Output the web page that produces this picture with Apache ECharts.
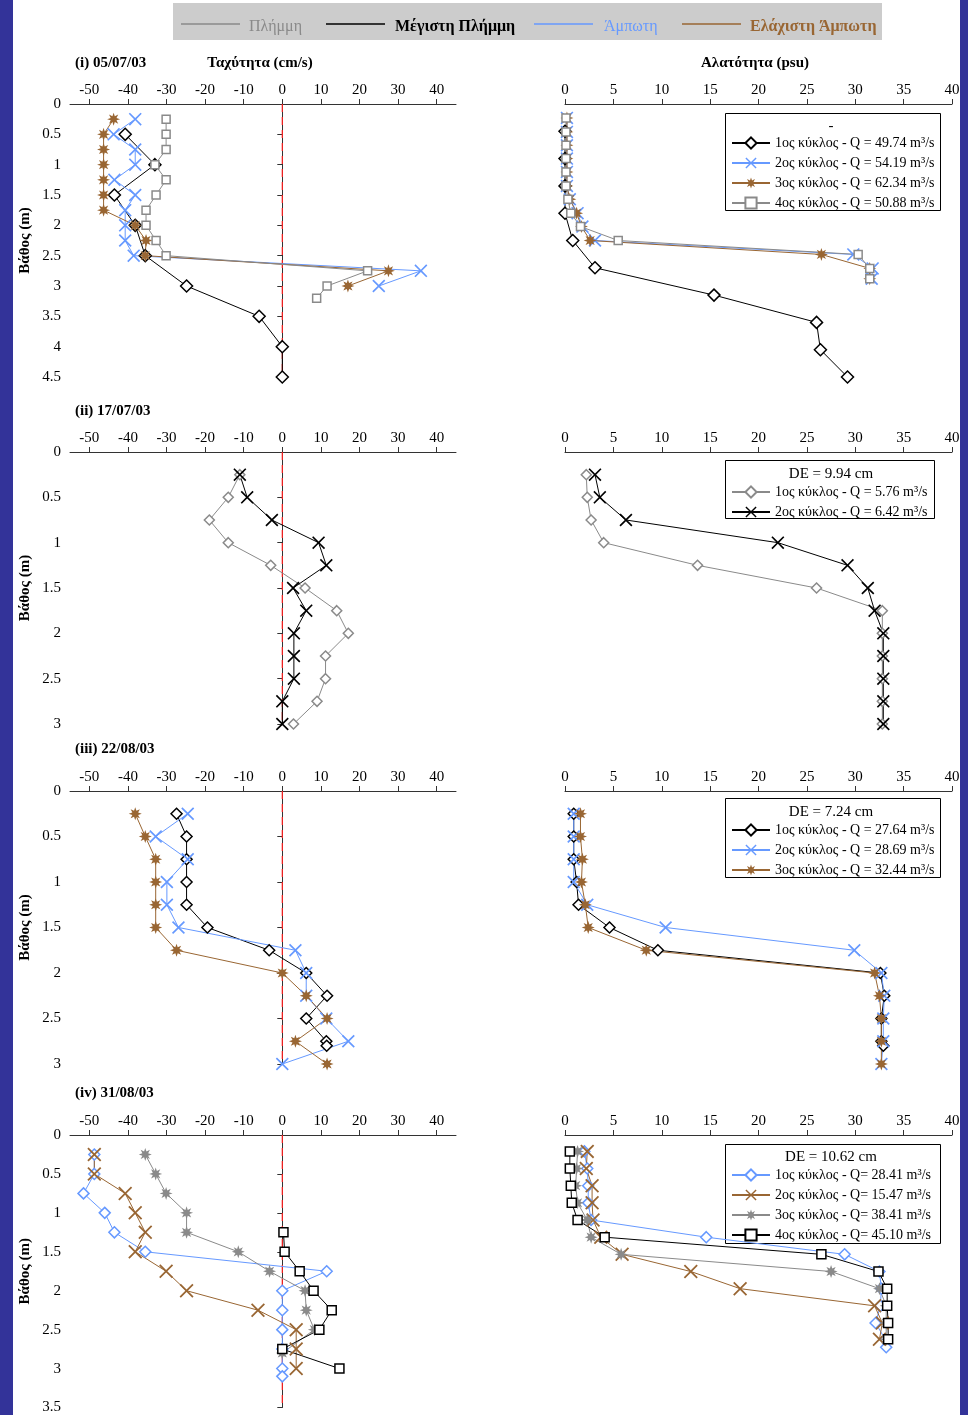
<!DOCTYPE html>
<html><head><meta charset="utf-8">
<script src="https://cdn.jsdelivr.net/npm/echarts@6.0.0/dist/echarts.min.js"></script>
<style>html,body{margin:0;padding:0;background:#fff}#c{width:968px;height:1415px}</style>
</head><body><div id="c"></div>
<script>
// ---------- DATA ----------
// Panel (i) 05/07/03 — velocity (cm/s) vs depth (m)
const i1_velDepth = [0.5,1,1.5,2,2.5,3,3.5,4,4.5];
const i1_vel      = [-40.7,-33.0,-43.5,-38.1,-35.5,-24.8,-6.0,0,0];
const i2_velDepth = [0.25,0.5,0.75,1,1.25,1.5,1.75,2,2.25,2.5,2.75,3];
const i2_vel      = [-38.1,-43.7,-38.1,-38.1,-43.5,-38.1,-40.7,-40.7,-40.7,-38.5,35.9,25.0];
const i3_velDepth = [0.25,0.5,0.75,1,1.25,1.5,1.75,2,2.25,2.5,2.75,3];
const i3_vel      = [-43.7,-46.3,-46.3,-46.3,-46.3,-46.3,-46.3,-38.1,-35.3,-35.5,27.5,17.0];
const i4_velDepth = [0.25,0.5,0.75,1,1.25,1.5,1.75,2,2.25,2.5,2.75,3,3.2];
const i4_vel      = [-30.1,-30.1,-30.1,-33.0,-30.1,-32.7,-35.3,-35.3,-32.7,-30.1,22.1,11.6,8.9];
// Panel (i) — salinity (psu) vs depth (m)
const i1_salDepth = [0.45,0.9,1.35,1.8,2.25,2.7,3.15,3.6,4.05,4.5];
const i1_sal      = [0,0,0,0,0.8,3.1,15.4,26.0,26.4,29.2];
const i_salDepth  = [0.23,0.46,0.68,0.9,1.12,1.35,1.57,1.8,2.02,2.25,2.48,2.71,2.88];
const i2_sal      = [0.2,0.2,0.2,0.2,0.2,0.2,0.5,1.3,1.8,3.1,29.8,31.8,31.7];
const i3_sal      = [0.2,0.2,0.2,0.2,0.2,0.2,0.5,1.2,1.7,2.6,26.5,31.5,31.5];
const i4_sal      = [0.1,0.1,0.1,0.1,0.1,0.1,0.3,0.6,1.6,5.5,30.3,31.5,31.5];

// Panel (ii) 17/07/03
const ii_depth = [0.25,0.5,0.75,1,1.25,1.5,1.75,2,2.25,2.5,2.75,3];
const ii1_vel  = [-11.0,-14.0,-18.9,-14.0,-3.0,5.9,14.1,17.1,11.2,11.2,9.0,2.9];
const ii2_vel  = [-11.0,-9.1,-2.7,9.4,11.4,2.8,6.2,3.0,3.0,3.0,0,0];
const ii1_sal  = [2.2,2.3,2.7,4.0,13.7,26.0,32.8,32.8,32.8,32.8,32.8,32.8];
const ii2_sal  = [3.1,3.6,6.3,22.0,29.2,31.3,32.0,32.9,32.9,32.9,32.9,32.9];

// Panel (iii) 22/08/03
const iii1_depth = [0.25,0.5,0.75,1,1.25,1.5,1.75,2,2.25,2.5,2.75,2.8];
const iii_depth  = [0.25,0.5,0.75,1,1.25,1.5,1.75,2,2.25,2.5,2.75,3];
const iii1_vel = [-27.4,-24.8,-24.8,-24.8,-24.8,-19.4,-3.4,6.2,11.6,6.2,11.4,11.5];
const iii2_vel = [-24.5,-32.8,-24.5,-29.9,-29.9,-26.9,3.4,6.2,6.2,11.4,17.1,0];
const iii3_vel = [-38.1,-35.5,-32.8,-32.8,-32.8,-32.8,-27.4,0,6.2,11.6,3.4,11.6];
const iii1_sal = [0.9,0.9,0.9,1.2,1.4,4.6,9.6,32.6,33.0,32.7,32.7,32.9];
const iii2_sal = [0.9,0.9,0.9,0.9,2.3,10.4,29.9,32.7,33.0,32.9,32.9,32.7];
const iii3_sal = [1.6,1.6,1.8,1.7,2.1,2.4,8.4,32.0,32.5,32.7,32.7,32.7];

// Panel (iv) 31/08/03
const iv1_velDepth = [0.25,0.5,0.75,1,1.25,1.5,1.75,2,2.25,2.5,2.75,3,3.1];
const iv1_vel      = [-48.7,-48.7,-51.5,-46.0,-43.5,-35.5,11.5,0,0,0,0,0,0];
const iv2_velDepth = [0.25,0.5,0.75,1,1.25,1.5,1.75,2,2.25,2.5,2.75,3];
const iv2_vel      = [-48.7,-48.7,-40.7,-38.1,-35.5,-38.1,-30.1,-24.8,-6.3,3.6,3.6,3.6];
const iv3_velDepth = [0.25,0.5,0.75,1,1.25,1.5,1.75,2,2.25,2.5,2.8];
const iv3_vel      = [-35.5,-32.8,-30.1,-24.8,-24.8,-11.4,-3.3,5.9,6.2,8.3,0];
const iv4_velDepth = [1.25,1.5,1.75,2,2.25,2.5,2.75,3];
const iv4_vel      = [0.3,0.6,4.5,8.1,12.8,9.6,0,14.8];
const iv_salDepth  = [0.21,0.43,0.65,0.87,1.09,1.31,1.53,1.75,1.97,2.19,2.41,2.62,2.72];
const iv1_sal      = [2.0,2.3,2.4,2.4,2.7,14.6,28.9,32.5,32.7,32.6,32.1,33.1,33.2];
const iv2_sal      = [2.3,2.2,2.8,2.8,2.9,3.7,5.9,13.0,18.1,32.0,32.8,32.5];
const iv3_sal      = [1.3,1.2,1.1,1.3,2.3,2.7,5.8,27.5,32.5,33.2,33.2,33.2];
const iv4_sal      = [0.5,0.5,0.6,0.7,1.3,4.1,26.5,32.4,33.3,33.3,33.4,33.4];

// Names / labels
const N_I   = ['1ος κύκλος - Q = 49.74 m³/s','2ος κύκλος - Q = 54.19 m³/s','3ος κύκλος - Q = 62.34 m³/s','4ος κύκλος - Q = 50.88 m³/s'];
const N_II  = ['1ος κύκλος - Q = 5.76 m³/s','2ος κύκλος - Q = 6.42 m³/s'];
const N_III = ['1ος κύκλος - Q = 27.64 m³/s','2ος κύκλος - Q = 28.69 m³/s','3ος κύκλος - Q = 32.44 m³/s'];
const N_IV  = ['1ος κύκλος - Q= 28.41 m³/s','2ος κύκλος - Q= 15.47 m³/s','3ος κύκλος - Q= 38.41 m³/s','4ος κύκλος - Q= 45.10 m³/s'];
const HEADERS = ['-','DE = 9.94 cm','DE = 7.24 cm','DE = 10.62 cm'];
const PANEL_TITLES = ['(i) 05/07/03','(ii) 17/07/03','(iii) 22/08/03','(iv) 31/08/03'];
const TOP_LEGEND = ['Πλήμμη','Μέγιστη Πλήμμη','Άμπωτη','Ελάχιστη Άμπωτη'];
const VEL_TICKS = [-50,-40,-30,-20,-10,0,10,20,30,40];
const DEPTH_MAX = [4.5,3,3,3.5];

// ---------- STYLE ----------
const FONT = '"Liberation Serif","Times New Roman",serif';
const C_BLACK = '#000000', C_BLUE = '#6699ff', C_BROWN = '#996633', C_GRAY = '#8a8a8a';
const SYM_X = 'path://M0,0.9L0.9,0L5,4.1L9.1,0L10,0.9L5.9,5L10,9.1L9.1,10L5,5.9L0.9,10L0,9.1L4.1,5Z';
function starPath(n, ro, ri){
  let d = 'path://';
  for (let k = 0; k < 2*n; k++){
    const r = k % 2 ? ri : ro;
    const a = Math.PI * k / n - Math.PI / 2;
    d += (k ? 'L' : 'M') + (5 + r*Math.cos(a)).toFixed(2) + ',' + (5 + r*Math.sin(a)).toFixed(2);
  }
  return d + 'Z';
}
const SYM_STAR = starPath(8, 5, 2.4);

function mk(kind, color, size){
  if (kind === 'diamond') return {symbol:'diamond', symbolSize:size||12, itemStyle:{color:'#fff', borderColor:color, borderWidth:1.5}};
  if (kind === 'square')  return {symbol:'rect', symbolSize:size||8, itemStyle:{color:'#fff', borderColor:color, borderWidth:1.5}};
  if (kind === 'x')       return {symbol:SYM_X, symbolSize:size||13, itemStyle:{color:color}};
  return {symbol:SYM_STAR, symbolSize:size||13, itemStyle:{color:color}};
}
function S(name, grid, xs, ys, kind, color, size){
  return Object.assign({
    name, type:'line', xAxisIndex:grid, yAxisIndex:grid,
    data: xs.map((v,i)=>[v, ys[i]]),
    showSymbol:true, animation:false, z:3,
    lineStyle:{width:1, color:color}
  }, mk(kind, color, size));
}

// ---------- LAYOUT ----------
const GRID_TOPS = [104, 452, 791, 1135];
const GRID_H = [273, 272, 273, 273];
const grids = [], xAxes = [], yAxes = [];
for (let p = 0; p < 4; p++){
  grids.push({left:70, top:GRID_TOPS[p], width:386, height:GRID_H[p]});
  grids.push({left:565, top:GRID_TOPS[p], width:387, height:GRID_H[p]});
  const gl = 2*p, gr = 2*p+1;
  const axLine = {show:true, lineStyle:{color:'#333', width:1}};
  xAxes.push({gridIndex:gl, type:'value', position:'top', min:-55, max:45,
    axisLine:axLine, axisTick:{show:true, length:5, customValues:VEL_TICKS, lineStyle:{color:'#333'}},
    axisLabel:{customValues:VEL_TICKS, margin:6, fontSize:15, color:'#000', fontFamily:FONT},
    splitLine:{show:false}});
  xAxes.push({gridIndex:gr, type:'value', position:'top', min:0, max:40, interval:5,
    axisLine:axLine, axisTick:{show:true, length:5, lineStyle:{color:'#333'}},
    axisLabel:{margin:6, fontSize:15, color:'#000', fontFamily:FONT},
    splitLine:{show:false}});
  yAxes.push({gridIndex:gl, type:'value', inverse:true, min:0, max:DEPTH_MAX[p], interval:0.5,
    axisLine:axLine, axisTick:{show:true, length:5, lineStyle:{color:'#333'}},
    axisLabel:{margin:9, fontSize:15, color:'#000', fontFamily:FONT},
    splitLine:{show:false},
    name:'Βάθος (m)', nameLocation:'middle', nameRotate:90, nameGap:37,
    nameTextStyle:{fontSize:15, fontWeight:'bold', color:'#000', fontFamily:FONT}});
  yAxes.push({gridIndex:gr, type:'value', inverse:true, min:0, max:DEPTH_MAX[p], show:false});
}

// zero reference line (velocity = 0) spanning the depth axis
function zeroLine(grid, dmax){
  return {name:'zero', type:'line', xAxisIndex:grid, yAxisIndex:grid, data:[[0,0],[0,dmax]],
    z:1, animation:false, symbol:'none', silent:true,
    lineStyle:{color:'#ff2020', type:[8,5], width:1.2}};
}

const series = [
  zeroLine(0,DEPTH_MAX[0]), zeroLine(2,DEPTH_MAX[1]), zeroLine(4,DEPTH_MAX[2]), zeroLine(6,DEPTH_MAX[3]),
  // (i)
  S(N_I[0],0,i1_vel,i1_velDepth,'diamond',C_BLACK,12),
  S(N_I[1],0,i2_vel,i2_velDepth,'x',C_BLUE,13),
  S(N_I[2],0,i3_vel,i3_velDepth,'star',C_BROWN,13),
  S(N_I[3],0,i4_vel,i4_velDepth,'square',C_GRAY,8),
  S(N_I[0],1,i1_sal,i1_salDepth,'diamond',C_BLACK,12),
  S(N_I[1],1,i2_sal,i_salDepth,'x',C_BLUE,13),
  S(N_I[2],1,i3_sal,i_salDepth,'star',C_BROWN,13),
  S(N_I[3],1,i4_sal,i_salDepth,'square',C_GRAY,8),
  // (ii)
  S(N_II[0],2,ii1_vel,ii_depth,'diamond',C_GRAY,10),
  S(N_II[1],2,ii2_vel,ii_depth,'x',C_BLACK,13),
  S(N_II[0],3,ii1_sal,ii_depth,'diamond',C_GRAY,10),
  S(N_II[1],3,ii2_sal,ii_depth,'x',C_BLACK,13),
  // (iii)
  S(N_III[0],4,iii1_vel,iii1_depth,'diamond',C_BLACK,11),
  S(N_III[1],4,iii2_vel,iii_depth,'x',C_BLUE,13),
  S(N_III[2],4,iii3_vel,iii_depth,'star',C_BROWN,13),
  S(N_III[0],5,iii1_sal,iii1_depth,'diamond',C_BLACK,11),
  S(N_III[1],5,iii2_sal,iii_depth,'x',C_BLUE,13),
  S(N_III[2],5,iii3_sal,iii_depth,'star',C_BROWN,13),
  // (iv)
  S(N_IV[0],6,iv1_vel,iv1_velDepth,'diamond',C_BLUE,11),
  S(N_IV[1],6,iv2_vel,iv2_velDepth,'x',C_BROWN,14),
  S(N_IV[2],6,iv3_vel,iv3_velDepth,'star',C_GRAY,13),
  S(N_IV[3],6,iv4_vel,iv4_velDepth,'square',C_BLACK,9),
  S(N_IV[0],7,iv1_sal,iv_salDepth,'diamond',C_BLUE,11),
  S(N_IV[1],7,iv2_sal,iv_salDepth.slice(0,iv2_sal.length),'x',C_BROWN,14),
  S(N_IV[2],7,iv3_sal,iv_salDepth.slice(0,iv3_sal.length),'star',C_GRAY,13),
  S(N_IV[3],7,iv4_sal,iv_salDepth.slice(0,iv4_sal.length),'square',C_BLACK,9)
];

// legends for the right panels
const LEG_BOX = [[725,113,215,97],[725,460,209,58],[725,798,215,79],[725,1144,215,99]];
const LEG_HEAD_Y = [126,474,812,1157];
const LEG_ROW1 = [143,492,830,1175];
const LEG_NAMES = [N_I, N_II, N_III, N_IV];
const legends = LEG_NAMES.map((names,p)=>({
  orient:'vertical', left:731, top:LEG_ROW1[p]-7, padding:0,
  itemWidth:38, itemHeight:14, itemGap:6, selectedMode:false,
  textStyle:{fontSize:14, fontFamily:FONT, color:'#000', lineHeight:14},
  data:names
}));

const graphics = [
  {type:'rect', shape:{x:0,y:0,width:13,height:1415}, style:{fill:'#333399'}},
  {type:'rect', shape:{x:960,y:0,width:8,height:1415}, style:{fill:'#333399'}},
  {type:'rect', shape:{x:173,y:3,width:709,height:37}, style:{fill:'#cccccc'}},
];
const TL_COL = [C_GRAY, C_BLACK, C_BLUE, C_BROWN];
const TL_LINE_X = [181,326,534,682];
const TL_TEXT_X = [249,395,604,750];
const TL_BOLD = [false,true,false,true];
for (let k=0;k<4;k++){
  graphics.push({type:'line', shape:{x1:TL_LINE_X[k], y1:24, x2:TL_LINE_X[k]+59, y2:24}, style:{stroke:TL_COL[k], lineWidth:1.3}});
  graphics.push({type:'text', x:TL_TEXT_X[k], y:27, style:{text:TOP_LEGEND[k], fill:TL_COL[k],
    font:(TL_BOLD[k]?'bold ':'')+'16px '+FONT, align:'left', verticalAlign:'middle'}});
}
const TITLE_Y = [63,411,749,1093];
for (let p=0;p<4;p++){
  graphics.push({type:'text', x:75, y:TITLE_Y[p], style:{text:PANEL_TITLES[p], fill:'#000', font:'bold 15px '+FONT, align:'left', verticalAlign:'middle'}});
  const b = LEG_BOX[p];
  graphics.push({type:'rect', shape:{x:b[0]+0.5,y:b[1]+0.5,width:b[2],height:b[3]}, style:{fill:'none', stroke:'#000', lineWidth:1}});
  graphics.push({type:'text', x:831, y:LEG_HEAD_Y[p], style:{text:HEADERS[p], fill:'#000', font:'15px '+FONT, align:'center', verticalAlign:'middle'}});
}
graphics.push({type:'text', x:260, y:63, style:{text:'Ταχύτητα (cm/s)', fill:'#000', font:'bold 15px '+FONT, align:'center', verticalAlign:'middle'}});
graphics.push({type:'text', x:755, y:63, style:{text:'Αλατότητα (psu)', fill:'#000', font:'bold 15px '+FONT, align:'center', verticalAlign:'middle'}});

const chart = echarts.init(document.getElementById('c'), null, {renderer:'canvas', width:968, height:1415});
chart.setOption({
  backgroundColor:'#ffffff',
  animation:false,
  textStyle:{fontFamily:FONT},
  grid:grids, xAxis:xAxes, yAxis:yAxes,
  legend:legends,
  series:series,
  graphic:graphics
});
</script></body></html>
